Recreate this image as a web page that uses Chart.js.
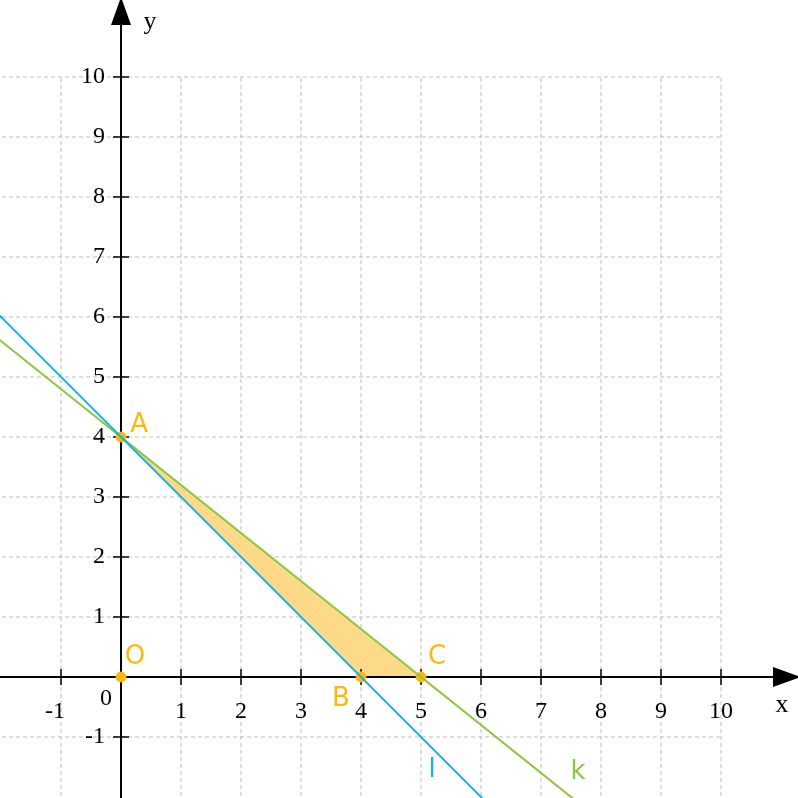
<!DOCTYPE html>
<html><head><meta charset="utf-8">
<script src="https://cdn.jsdelivr.net/npm/chart.js@4/dist/chart.umd.min.js"></script>
<style>html,body{margin:0;padding:0;background:#fff}#w{width:798px;height:798px}</style>
</head><body><div id="w"><canvas id="c"></canvas></div>
<script>
const xTicks=[-1,1,2,3,4,5,6,7,8,9,10];
const yTicks=[-1,1,2,3,4,5,6,7,8,9,10];
const lineL=[{x:-2.1,y:6.1},{x:6.1,y:-2.1}];
const lineK=[{x:-2.1,y:5.68},{x:7.6,y:-2.08}];
const region=[{x:0,y:4},{x:4,y:0},{x:5,y:0}];
const points=[{x:0,y:4,n:'A',dx:12,dy:-12},{x:0,y:0,n:'O',dx:8,dy:-20},{x:4,y:0,n:'B',dx:-26,dy:22},{x:5,y:0,n:'C',dx:10,dy:-20}];
const MIN=-2.017,MAX=11.283;
const orange='#fbb80f';
const deco={id:'deco',
 beforeDatasetsDraw(ch){const c=ch.ctx,X=ch.scales.x,Y=ch.scales.y;
  const px=v=>X.getPixelForValue(v),py=v=>Y.getPixelForValue(v);
  c.save();c.strokeStyle='#bdbdbd';c.lineWidth=1;c.setLineDash([4,3]);
  for(let i=-1;i<=10;i++){if(i===0)continue;
   c.beginPath();c.moveTo(px(i),py(-2.1));c.lineTo(px(i),py(10));c.stroke();
   c.beginPath();c.moveTo(px(-2.1),py(i));c.lineTo(px(10),py(i));c.stroke();}
  c.setLineDash([]);
  c.fillStyle='#fdd98a';c.beginPath();region.forEach((p,i)=>i?c.lineTo(px(p.x),py(p.y)):c.moveTo(px(p.x),py(p.y)));c.closePath();c.fill();
  c.strokeStyle='#000';c.lineWidth=2;
  c.beginPath();c.moveTo(px(-2.1),py(0));c.lineTo(px(11),py(0));c.stroke();
  c.beginPath();c.moveTo(px(0),py(-2.1));c.lineTo(px(0),py(11));c.stroke();
  c.fillStyle='#000';
  c.beginPath();c.moveTo(px(11.1)+14,py(0));c.lineTo(px(11.1)-14,py(0)-10);c.lineTo(px(11.1)-14,py(0)+10);c.fill();
  c.beginPath();c.moveTo(px(0),py(11.1)-14);c.lineTo(px(0)-10,py(11.1)+14);c.lineTo(px(0)+10,py(11.1)+14);c.fill();
  c.lineWidth=1.5;c.font='24px "Liberation Serif"';
  xTicks.forEach(t=>{c.beginPath();c.moveTo(px(t),py(0)-8);c.lineTo(px(t),py(0)+8);c.stroke();
   c.textAlign='center';c.textBaseline='top';c.fillText(String(t),px(t)-(t<0?6:0),py(0)+23);});
  yTicks.forEach(t=>{c.beginPath();c.moveTo(px(0)-8,py(t));c.lineTo(px(0)+8,py(t));c.stroke();
   c.textAlign='right';c.textBaseline='middle';c.fillText(String(t),px(0)-16,py(t));});
  c.textAlign='center';c.textBaseline='middle';c.fillText('0',px(0)-15,py(0)+22);
  c.font='26px "Liberation Serif"';c.fillText('x',782,705);c.fillText('y',150,22);
  c.restore();},
 afterDatasetsDraw(ch){const c=ch.ctx,X=ch.scales.x,Y=ch.scales.y;
  c.save();c.font='26px "Comic Sans MS","DejaVu Sans"';c.textAlign='center';c.textBaseline='middle';
  c.fillStyle=orange;points.forEach(p=>c.fillText(p.n,X.getPixelForValue(p.x)+p.dx+6,Y.getPixelForValue(p.y)+p.dy));
  c.fillStyle='#1ab0e8';c.fillText('l',432,770);c.fillStyle='#8cc63f';c.fillText('k',578,772);c.restore();}
};
new Chart(document.getElementById('c'),{type:'scatter',
 data:{datasets:[
  {data:lineL,showLine:true,borderColor:'#1ab0e8',borderWidth:2,pointRadius:0},
  {data:lineK,showLine:true,borderColor:'#8cc63f',borderWidth:2,pointRadius:0},
  {data:points.map(p=>({x:p.x,y:p.y})),backgroundColor:orange,borderColor:orange,pointRadius:5}]},
 options:{responsive:true,maintainAspectRatio:false,animation:false,
  layout:{padding:0,autoPadding:false},plugins:{legend:{display:false},tooltip:{enabled:false}},
  scales:{x:{type:'linear',min:MIN,max:MAX,display:false},y:{type:'linear',min:MIN,max:MAX,display:false}}},
 plugins:[deco]});
</script></body></html>
